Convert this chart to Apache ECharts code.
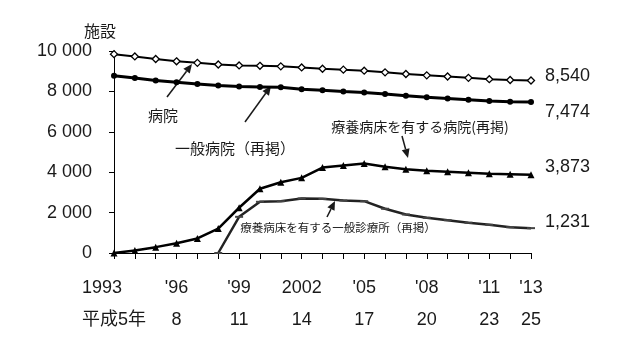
<!DOCTYPE html>
<html>
<head>
<meta charset="utf-8">
<script src="https://cdn.jsdelivr.net/npm/echarts@6/dist/echarts.min.js"></script>
<style>
  html, body { margin: 0; padding: 0; background: #fff; }
  #chart { width: 630px; height: 352px; }
</style>
</head>
<body>
<div id="chart"></div>
<script>
// 年次
var years = ['1993', '1994', '1995', '1996', '1997', '1998', '1999', '2000', '2001', '2002',
    '2003', '2004', '2005', '2006', '2007', '2008', '2009', '2010', '2011', '2012', '2013'];
// x軸ラベル（上段・下段）
var yearLabels = {0: '1993', 3: "'96", 6: "'99", 9: '2002', 12: "'05", 15: "'08", 18: "'11", 20: "'13"};
var heiseiLabels = {0: '平成5年', 3: '8', 6: '11', 9: '14', 12: '17', 15: '20', 18: '23', 20: '25'};
var yTicks = [0, 2000, 4000, 6000, 8000, 10000];

// 病院
var hospitals = [9844, 9731, 9606, 9490, 9413, 9333, 9286, 9266, 9239, 9187,
    9122, 9077, 9026, 8943, 8862, 8794, 8739, 8670, 8605, 8565, 8540];
// 一般病院（再掲）
var generalHospitals = [8770, 8660, 8540, 8450, 8370, 8290, 8240, 8220, 8200, 8110,
    8060, 7990, 7950, 7870, 7790, 7710, 7650, 7590, 7530, 7490, 7474];
// 療養病床を有する病院（再掲）
var ltcHospitals = [0, 120, 290, 480, 720, 1210, 2240, 3180, 3500, 3720,
    4230, 4330, 4430, 4270, 4150, 4070, 4020, 3970, 3920, 3900, 3873];
// 療養病床を有する一般診療所（再掲）
var ltcClinics = [null, null, null, null, null, 0, 1790, 2535, 2565, 2700,
    2680, 2600, 2565, 2190, 1906, 1743, 1624, 1495, 1396, 1277, 1231];

var FONT = 'Liberation Sans, "Noto Sans CJK JP", sans-serif';
var JP = '"Noto Sans CJK JP", sans-serif';
var INK = '#1a1a1a';

function comma(v) {
    return String(v).replace(/\B(?=(\d{3})+(?!\d))/g, ',');
}

// 矢印（線＋三角の頭）
function arrow(x1, y1, x2, y2) {
    var dx = x2 - x1, dy = y2 - y1;
    var len = Math.sqrt(dx * dx + dy * dy);
    var ux = dx / len, uy = dy / len;
    var hl = 9, hw = 4;
    var bx = x2 - ux * hl, by = y2 - uy * hl;
    return {
        type: 'group',
        children: [
            {type: 'line', shape: {x1: x1, y1: y1, x2: bx, y2: by}, style: {stroke: INK, lineWidth: 1.5}},
            {type: 'polygon', shape: {points: [[x2, y2], [bx - uy * hw, by + ux * hw], [bx + uy * hw, by - ux * hw]]},
                style: {fill: INK}}
        ]
    };
}

function note(text, x, y, size) {
    return {
        type: 'text', x: x, y: y,
        style: {text: text, fill: INK, font: size + 'px ' + JP, align: 'center', verticalAlign: 'middle'}
    };
}

var myChart = echarts.init(document.getElementById('chart'));

var option = {
    animation: false,
    backgroundColor: '#fff',
    grid: {left: 114, right: 99, top: 51, bottom: 99},
    xAxis: {
        type: 'category',
        data: years,
        boundaryGap: false,
        axisLine: {lineStyle: {color: '#000', width: 1}},
        axisTick: {show: true, interval: 0, length: 6, lineStyle: {color: '#000'}},
        axisLabel: {
            interval: function (idx) { return yearLabels[idx] !== undefined; },
            margin: 19,
            color: INK,
            fontFamily: FONT,
            fontSize: 18,
            lineHeight: 32,
            formatter: function (val, idx) {
                if (idx === 0) {
                    return '{l|' + yearLabels[idx] + '}\n{c|' + heiseiLabels[idx] + '}';
                }
                return yearLabels[idx] + '\n' + heiseiLabels[idx];
            },
            rich: {
                l: {align: 'left', fontSize: 18, fontFamily: FONT, color: INK, lineHeight: 32},
                c: {fontSize: 18, fontFamily: FONT, color: INK, lineHeight: 32}
            }
        }
    },
    yAxis: {
        type: 'value',
        min: yTicks[0],
        max: yTicks[yTicks.length - 1],
        interval: 2000,
        name: '施設',
        nameLocation: 'end',
        nameGap: 12,
        nameTextStyle: {color: INK, fontFamily: JP, fontSize: 16, align: 'right', padding: [0, -2, 0, 0]},
        splitLine: {show: false},
        axisLine: {show: true, lineStyle: {color: '#000', width: 1}},
        axisTick: {show: true, length: 5, lineStyle: {color: '#000'}},
        axisLabel: {
            margin: 22,
            color: INK,
            fontFamily: FONT,
            fontSize: 18,
            formatter: function (v) { return String(v).replace(/\B(?=(\d{3})+(?!\d))/g, ' '); }
        }
    },
    series: [
        {
            name: '病院',
            type: 'line',
            data: hospitals,
            symbol: 'diamond',
            symbolSize: 7,
            itemStyle: {color: '#fff', borderColor: '#000', borderWidth: 1.3},
            lineStyle: {color: '#000', width: 2},
            endLabel: {show: true, distance: 14, offset: [0, -4], color: INK, fontFamily: FONT, fontSize: 18,
                formatter: function (p) { return comma(p.value); }},
            emphasis: {disabled: true}
        },
        {
            name: '一般病院（再掲）',
            type: 'line',
            data: generalHospitals,
            symbol: 'circle',
            symbolSize: 6,
            itemStyle: {color: '#000'},
            lineStyle: {color: '#000', width: 3},
            endLabel: {show: true, distance: 14, offset: [0, 10], color: INK, fontFamily: FONT, fontSize: 18,
                formatter: function (p) { return comma(p.value); }},
            emphasis: {disabled: true}
        },
        {
            name: '療養病床を有する病院（再掲）',
            type: 'line',
            data: ltcHospitals,
            symbol: 'triangle',
            symbolSize: 7,
            itemStyle: {color: '#000'},
            lineStyle: {color: '#000', width: 2.5},
            endLabel: {show: true, distance: 14, offset: [0, -8], color: INK, fontFamily: FONT, fontSize: 18,
                formatter: function (p) { return comma(p.value); }},
            emphasis: {disabled: true}
        },
        {
            name: '療養病床を有する一般診療所（再掲）',
            type: 'line',
            data: ltcClinics,
            symbol: 'rect',
            symbolSize: [8, 2],
            itemStyle: {color: '#444'},
            lineStyle: {color: '#222', width: 2.5},
            endLabel: {show: true, distance: 14, offset: [0, -6], color: INK, fontFamily: FONT, fontSize: 18,
                formatter: function (p) { return comma(p.value); }},
            emphasis: {disabled: true}
        }
    ],
    graphic: [
        note('病院', 163, 115, 15),
        arrow(167, 97, 192, 64),
        note('一般病院（再掲）', 235, 148, 15),
        arrow(245, 122, 271, 86),
        note('療養病床を有する病院(再掲)', 420, 127, 14),
        arrow(402, 136, 408, 158),
        note('療養病床を有する一般診療所（再掲）', 338, 228, 11.5),
        arrow(327, 217, 335, 201)
    ]
};

myChart.setOption(option);
</script>
</body>
</html>
